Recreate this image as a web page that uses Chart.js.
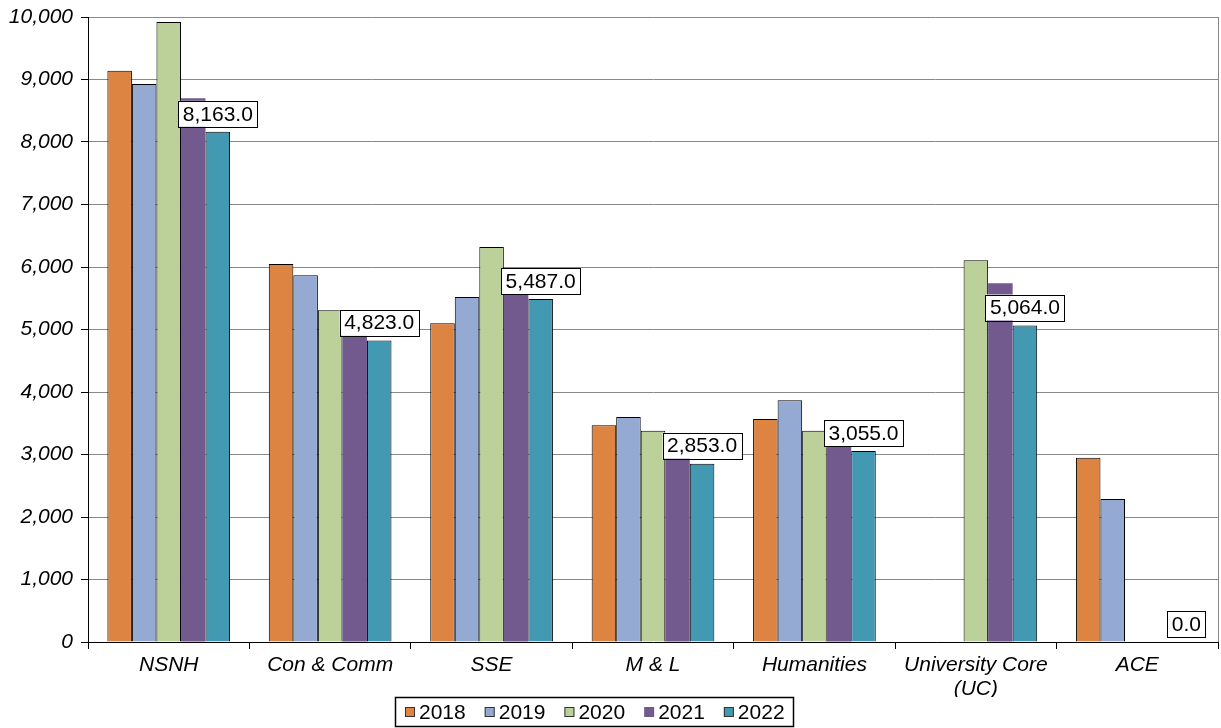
<!DOCTYPE html>
<html>
<head>
<meta charset="utf-8">
<script src="https://cdn.jsdelivr.net/npm/chart.js@4"></script>
<style>
    html, body { margin: 0; padding: 0; background: #fff; }
    #wrap { width: 1221px; height: 728px; }
</style>
</head>
<body>
<div id="wrap"><canvas id="bars-chart" width="1221" height="728"></canvas></div>
<script>
var categories = ["NSNH", "Con & Comm", "SSE", "M & L", "Humanities", ["University Core", "(UC)"], "ACE"];
var years = ["2018", "2019", "2020", "2021", "2022"];

var values2018 = [9140, 6050, 5100, 3470, 3570, null, 2950];
var values2019 = [8930, 5870, 5520, 3600, 3870, null, 2290];
var values2020 = [9920, 5310, 6320, 3380, 3380, 6110, null];
var values2021 = [8700, 4900, 5570, 2960, 3140, 5740, null];
var values2022 = [8163, 4823, 5487, 2853, 3055, 5064, 0];

var yTicks = { min: 0, max: 10000, step: 1000 };

var fills = ["#DE8442", "#95AAD2", "#BBD199", "#725A8E", "#4399B1"];
var borders = [1, 1, 1, 0, 1];

var series = [values2018, values2019, values2020, values2021, values2022];

var FONT = "'Liberation Sans', Arial, sans-serif";

// boxed value labels on the last series only
var valueLabels = {
    id: "valueLabels",
    afterDatasetsDraw: function (chart) {
        var ctx = chart.ctx,
            idx = chart.data.datasets.length - 1,
            meta = chart.getDatasetMeta(idx);

        ctx.save();
        ctx.font = "21px " + FONT;
        ctx.textAlign = "center";
        ctx.textBaseline = "middle";
        meta.data.forEach(function (bar, i) {
            var v = chart.data.datasets[idx].data[i];
            if (v === null) return;
            var txt = v.toLocaleString("en-US", { minimumFractionDigits: 1, maximumFractionDigits: 1 }),
                w = ctx.measureText(txt).width + 9,
                h = 26,
                cx = bar.x,
                bottom = bar.y - 5;
            ctx.fillStyle = "#fff";
            ctx.fillRect(cx - w / 2, bottom - h, w, h);
            ctx.strokeStyle = "#000";
            ctx.lineWidth = 1;
            ctx.strokeRect(Math.round(cx - w / 2) + 0.5, Math.round(bottom - h) + 0.5, Math.round(w), h);
            ctx.fillStyle = "#000";
            ctx.fillText(txt, cx, bottom - h / 2 + 1);
        });
        ctx.restore();
    }
};

// right edge of the plot area, and the framed legend under the axis
var frames = {
    id: "frames",
    afterDraw: function (chart) {
        var ctx = chart.ctx,
            a = chart.chartArea,
            sets = chart.data.datasets,
            sq = 10, gap = 4, spacing = 19, padL = 10, padR = 8,
            widths, total, x, cy = 712, top = 697, bottom = 726;

        ctx.save();
        ctx.strokeStyle = "#888";
        ctx.lineWidth = 1;
        ctx.beginPath();
        ctx.moveTo(Math.round(a.right) + 0.5, a.top);
        ctx.lineTo(Math.round(a.right) + 0.5, a.bottom);
        ctx.stroke();

        ctx.font = "21px " + FONT;
        ctx.textBaseline = "middle";
        ctx.textAlign = "left";
        widths = sets.map(function (ds) { return ctx.measureText(ds.label).width; });
        total = padL + padR;
        widths.forEach(function (w, i) {
            total += sq + gap + w + (i < widths.length - 1 ? spacing : 0);
        });
        x = Math.round(chart.width / 2 - 17 - total / 2);

        ctx.strokeStyle = "#000";
        ctx.lineWidth = 1.5;
        ctx.strokeRect(x + 0.5, top + 0.5, Math.round(total), bottom - top);

        x += padL;
        sets.forEach(function (ds, i) {
            ctx.fillStyle = ds.backgroundColor;
            ctx.fillRect(x, cy - sq / 2, sq, sq);
            if (ds.borderWidth) {
                ctx.strokeStyle = "#333";
                ctx.lineWidth = 1;
                ctx.strokeRect(x + 0.5, cy - sq / 2 + 0.5, sq - 1, sq - 1);
            }
            ctx.fillStyle = "#000";
            ctx.fillText(ds.label, x + sq + gap, cy + 1);
            x += sq + gap + widths[i] + spacing;
        });
        ctx.restore();
    }
};

new Chart("bars-chart", {
    type: "bar",
    data: {
        labels: categories,
        datasets: series.map(function (vals, i) {
            return {
                label: years[i],
                data: vals,
                backgroundColor: fills[i],
                borderColor: "#000",
                borderWidth: borders[i],
                categoryPercentage: 0.76,
                barPercentage: 1.0
            };
        })
    },
    options: {
        responsive: false,
        animation: false,
        layout: { padding: { top: 0, right: 3, left: 0, bottom: 31 } },
        plugins: {
            tooltip: { enabled: false },
            legend: { display: false }
        },
        scales: {
            x: {
                grid: {
                    drawOnChartArea: false,
                    drawTicks: true,
                    tickLength: 7,
                    color: "#000"
                },
                border: { color: "#000", width: 1 },
                ticks: {
                    font: { family: FONT, size: 21, style: "italic", lineHeight: 1.15 },
                    color: "#000",
                    padding: 4,
                    maxRotation: 0
                },
                afterFit: function (scale) { scale.height = 55; }
            },
            y: {
                min: yTicks.min,
                max: yTicks.max,
                grid: {
                    color: "#888",
                    tickLength: 7,
                    tickColor: "#000"
                },
                border: { color: "#000", width: 1 },
                ticks: {
                    stepSize: yTicks.step,
                    font: { family: FONT, size: 21, style: "italic" },
                    color: "#000",
                    padding: 8,
                    callback: function (v) { return v.toLocaleString("en-US"); }
                },
                afterFit: function (scale) {
                    scale.width = 88;
                    scale.paddingTop = 17;
                    scale.paddingBottom = 0;
                }
            }
        }
    },
    plugins: [valueLabels, frames]
});
</script>
</body>
</html>
